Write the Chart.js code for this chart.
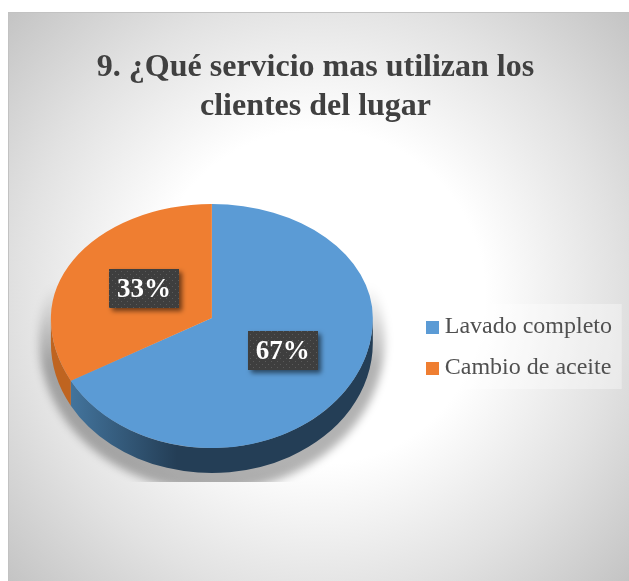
<!DOCTYPE html>
<html><head><meta charset="utf-8">
<style>html,body{margin:0;padding:0;background:#fff}canvas{display:block}</style>
<script src="https://cdn.jsdelivr.net/npm/chart.js@4"></script></head>
<body><canvas id="c" width="629" height="581" style="width:629px;height:581px"></canvas>
<script>
const categories = ['Lavado completo', 'Cambio de aceite'];
const values = [67, 33];
const percentLabels = ['67%', '33%'];
const sliceColors = ['#5b9bd5', '#ef7e31'];
const titleLines = ['9. ¿Qué servicio mas utilizan los', 'clientes del lugar'];

const SERIF = '"Liberation Serif","Times New Roman",serif';
const TOP_SCALE = 114 / 161, BOTTOM_SCALE = 130 / 161, DEPTH = 25;

function swatch(color) {
  const c = document.createElement('canvas');
  c.width = 13; c.height = 13;
  const x = c.getContext('2d');
  x.fillStyle = color; x.fillRect(0, 0, 13, 13);
  return c;
}
function dotPattern(ctx) {
  const c = document.createElement('canvas');
  c.width = 6; c.height = 6;
  const x = c.getContext('2d');
  x.fillStyle = '#3e3e3e'; x.fillRect(0, 0, 6, 6);
  x.fillStyle = '#5a5a5a'; x.fillRect(1, 1, 1, 1); x.fillRect(4, 4, 1, 1);
  return ctx.createPattern(c, 'repeat');
}
function squash(ctx, cy, k) {
  ctx.translate(0, cy); ctx.scale(1, k); ctx.translate(0, -cy);
}

const piePerspective = {
  id: 'piePerspective',
  beforeDraw(chart) {
    const { ctx, width, height } = chart;
    ctx.save();
    ctx.fillStyle = '#ffffff'; ctx.fillRect(0, 0, width, height);
    const g = ctx.createRadialGradient(318, 297, 0, 318, 297, 440);
    g.addColorStop(0, '#ffffff'); g.addColorStop(0.38, '#ffffff');
    g.addColorStop(0.68, '#e2e2e2'); g.addColorStop(1, '#bfbfbf');
    ctx.fillStyle = g; ctx.fillRect(8, 12, width - 8, height - 12);
    ctx.fillStyle = '#c2c2c2';
    ctx.fillRect(8, 12, width - 8, 1); ctx.fillRect(8, 12, 1, height - 12);
    const lg = chart.legend;
    ctx.fillStyle = 'rgba(255,255,255,0.35)';
    ctx.fillRect(lg.left, 304, 207, 85);
    ctx.restore();
  },
  beforeDatasetsDraw(chart) {
    const { ctx } = chart;
    const arcs = chart.getDatasetMeta(0).data;
    const { x: cx, y: cy, outerRadius: r } = arcs[0];
    const ry = r * BOTTOM_SCALE;
    // soft shadow under the pie
    ctx.save();
    ctx.beginPath(); ctx.rect(0, 270, 629, 212); ctx.clip();
    ctx.filter = 'blur(4px)';
    const sg = ctx.createLinearGradient(0, 285, 0, 365);
    sg.addColorStop(0, 'rgba(0,0,0,0)');
    sg.addColorStop(1, 'rgba(0,0,0,0.3)');
    ctx.fillStyle = sg;
    ctx.beginPath(); ctx.ellipse(cx, cy + 22, r + 12, ry + 21, 0, 0, Math.PI * 2); ctx.fill();
    ctx.restore();
    // side wall
    arcs.forEach((arc, i) => {
      const a0 = Math.max(arc.startAngle, 0), a1 = Math.min(arc.endAngle, Math.PI);
      if (a1 <= a0) return;
      ctx.save();
      ctx.beginPath();
      ctx.ellipse(cx, cy, r, ry, 0, a0, a1);
      ctx.ellipse(cx, cy + DEPTH, r, ry, 0, a1, a0, true);
      ctx.closePath();
      if (i === 0) {
        const g = ctx.createLinearGradient(cx - 145, 0, cx - 35, 0);
        g.addColorStop(0, '#44769f'); g.addColorStop(1, '#243e56');
        ctx.fillStyle = g;
      } else ctx.fillStyle = '#bf6420';
      ctx.fill();
      ctx.restore();
    });
    // upper half of the cap
    ctx.save();
    ctx.beginPath(); ctx.rect(0, 0, 629, cy); ctx.clip();
    squash(ctx, cy, TOP_SCALE);
  },
  afterDatasetsDraw(chart) {
    const { ctx } = chart;
    ctx.restore();
    const meta = chart.getDatasetMeta(0);
    const arcs = meta.data;
    const { x: cx, y: cy, outerRadius: r } = arcs[0];
    // lower half of the cap
    ctx.save();
    ctx.beginPath(); ctx.rect(0, cy, 629, 581 - cy); ctx.clip();
    squash(ctx, cy, BOTTOM_SCALE);
    meta.controller.draw();
    ctx.restore();
    // value labels
    const pattern = dotPattern(ctx);
    arcs.forEach((arc, i) => {
      const p = arc.getCenterPoint();
      const k = p.y < cy ? TOP_SCALE : BOTTOM_SCALE;
      const lx = p.x + 1.5, ly = cy + (p.y - cy) * k;
      ctx.save();
      ctx.shadowColor = 'rgba(0,0,0,0.55)'; ctx.shadowBlur = 5;
      ctx.shadowOffsetX = 3; ctx.shadowOffsetY = 3;
      ctx.fillStyle = pattern;
      ctx.fillRect(Math.round(lx - 35), Math.round(ly - 20), 70, 39);
      ctx.restore();
      ctx.save();
      ctx.fillStyle = '#ffffff';
      ctx.font = 'bold 27px ' + SERIF;
      ctx.textAlign = 'center'; ctx.textBaseline = 'middle';
      ctx.fillText(percentLabels[i], lx, ly + 0.5);
      ctx.restore();
    });
  },
  afterLayout(chart) {
    const lg = chart.legend;
    const shift = 347.5 - (lg.top + lg.bottom) / 2;
    lg.top += shift; lg.bottom += shift;
  }
};

new Chart(document.getElementById('c'), {
  type: 'pie',
  data: {
    labels: categories,
    datasets: [{ data: values, backgroundColor: sliceColors, borderWidth: 0, clip: false }]
  },
  plugins: [piePerspective],
  options: {
    responsive: false,
    animation: false,
    layout: { padding: { left: 9, right: 7, top: 0, bottom: 102 } },
    plugins: {
      tooltip: { enabled: false },
      title: {
        display: true,
        text: titleLines,
        color: '#404040',
        font: { family: SERIF, size: 32, weight: 'bold', lineHeight: 1.22 },
        padding: { top: 48, bottom: 31 }
      },
      legend: {
        position: 'right',
        labels: {
          color: '#505050',
          font: { family: SERIF, size: 24, lineHeight: 1.05 },
          usePointStyle: true,
          boxWidth: 1,
          boxHeight: 13,
          padding: 17,
          generateLabels(chart) {
            const items = Chart.overrides.pie.plugins.legend.labels.generateLabels(chart);
            items.forEach((it, i) => { it.pointStyle = swatch(sliceColors[i]); });
            return items;
          }
        }
      }
    }
  }
});
</script></body></html>
